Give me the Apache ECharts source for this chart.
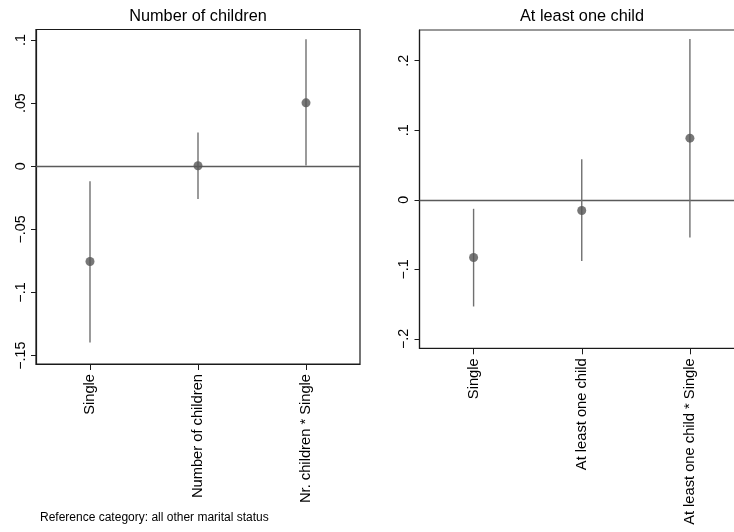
<!DOCTYPE html>
<html>
<head>
<meta charset="utf-8">
<script src="https://cdn.jsdelivr.net/npm/echarts@6/dist/echarts.min.js"></script>
<style>
html,body{margin:0;padding:0;background:#fff;}
#chart{width:734px;height:532px;}
</style>
</head>
<body>
<div id="chart"></div>
<script>
// ---- data ----
const titleLeft = 'Number of children';
const titleRight = 'At least one child';
const catsLeft = ['Single', 'Number of children', 'Nr. children * Single'];
const estLeft = [-0.0754, 0.0004, 0.0502];
const lowLeft = [-0.1395, -0.0259, 0.0005];
const highLeft = [-0.0119, 0.0267, 0.1005];
const ticksLeft = [-0.15, -0.1, -0.05, 0, 0.05, 0.1];

const catsRight = ['Single', 'At least one child', 'At least one child * Single'];
const estRight = [-0.0829, -0.0153, 0.0886];
const lowRight = [-0.1533, -0.0880, -0.0541];
const highRight = [-0.0129, 0.0585, 0.2313];
const ticksRight = [-0.2, -0.1, 0, 0.1, 0.2];

const footnote = 'Reference category: all other marital status';

// ---- helpers ----
function fmt(v) {
  const r = Math.round(v * 1000) / 1000;
  if (r === 0) return '0';
  let s = String(Math.abs(r)).replace(/^0\./, '.');
  return (r < 0 ? '\u2212' : '') + s;
}
const FONT = 'Liberation Sans, Arial, Helvetica, sans-serif';
const ciColor = '#707070';
const ptColor = '#555555';
const boxColor = '#1a1a1a';

function ciSeries(idx, cats, low, high) {
  return {
    type: 'custom',
    xAxisIndex: idx, yAxisIndex: idx,
    silent: true,
    data: cats.map((c, i) => [i, low[i], high[i]]),
    encode: { x: 0, y: [1, 2] },
    renderItem: function (params, api) {
      const p1 = api.coord([api.value(0), api.value(1)]);
      const p2 = api.coord([api.value(0), api.value(2)]);
      return {
        type: 'line',
        shape: { x1: p1[0], y1: p1[1], x2: p2[0], y2: p2[1] },
        style: { stroke: ciColor, lineWidth: 1.4 }
      };
    },
    z: 3
  };
}
function ptSeries(idx, cats, est) {
  return {
    type: 'scatter',
    xAxisIndex: idx, yAxisIndex: idx,
    silent: true,
    symbol: 'circle',
    symbolSize: 9,
    itemStyle: { color: ptColor },
    data: est.map((v, i) => [i, v]),
    z: 4,
    markLine: {
      silent: true,
      symbol: 'none',
      label: { show: false },
      lineStyle: { color: '#5a5a5a', width: 1.4, type: 'solid' },
      data: [{ yAxis: 0 }],
      z: 2
    }
  };
}
function xAx(idx, cats) {
  return {
    type: 'category', gridIndex: idx, data: cats, boundaryGap: true,
    axisLine: { show: true, onZero: false, lineStyle: { color: boxColor, width: 1.2 } },
    axisTick: { show: true, alignWithLabel: true, interval: 0, length: 6, lineStyle: { color: boxColor, width: 1 } },
    axisLabel: { rotate: 90, margin: 10, fontSize: 14.7, color: '#000', fontFamily: FONT, interval: 0 },
    splitLine: { show: false }
  };
}
function yAx(idx, min, max, ticks) {
  return {
    type: 'value', gridIndex: idx, min: min, max: max,
    axisLine: { show: true, onZero: false, lineStyle: { color: boxColor, width: 1.2 } },
    axisTick: { show: true, length: 5, lineStyle: { color: boxColor }, customValues: ticks },
    axisLabel: { rotate: 90, margin: 8, fontSize: 14.3, color: '#000', fontFamily: FONT,
      customValues: ticks, formatter: fmt },
    splitLine: { show: false }
  };
}

const chart = echarts.init(document.getElementById('chart'), null, { renderer: 'canvas' });
chart.setOption({
  animation: false,
  backgroundColor: '#ffffff',
  grid: [
    { left: 36, top: 29.5, width: 324, height: 334.5, show: true, borderColor: boxColor, borderWidth: 1.2, containLabel: false, outerBoundsMode: 'none' },
    { left: 419.5, top: 30, width: 324.5, height: 318.3, show: true, borderColor: '#333', borderWidth: 1.2, containLabel: false, outerBoundsMode: 'none' }
  ],
  xAxis: [xAx(0, catsLeft), xAx(1, catsRight)],
  yAxis: [yAx(0, -0.1566, 0.1083, ticksLeft), yAx(1, -0.2134, 0.2441, ticksRight)],
  series: [
    ciSeries(0, catsLeft, lowLeft, highLeft),
    ptSeries(0, catsLeft, estLeft),
    ciSeries(1, catsRight, lowRight, highRight),
    ptSeries(1, catsRight, estRight)
  ],
  graphic: [
    { type: 'text', x: 198, y: 17, style: { text: titleLeft, font: '16.3px ' + FONT, fill: '#000', textAlign: 'center', textVerticalAlign: 'middle' } },
    { type: 'text', x: 582, y: 17, style: { text: titleRight, font: '16.3px ' + FONT, fill: '#000', textAlign: 'center', textVerticalAlign: 'middle' } },
    { type: 'text', x: 40, y: 518, style: { text: footnote, font: '12px ' + FONT, fill: '#000', textAlign: 'left', textVerticalAlign: 'middle' } }
  ]
});
</script>
</body>
</html>
